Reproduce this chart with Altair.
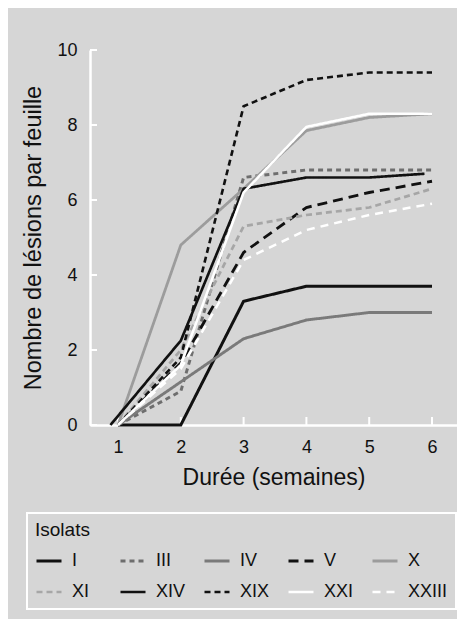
import altair as alt
import pandas as pd

# ---- data ----
weeks = [1, 2, 3, 4, 5, 6]
isolats = ["I", "III", "IV", "V", "X", "XI", "XIV", "XIX", "XXI", "XXIII"]
series = {
    "I":     [0.0, 0.0, 3.3, 3.7, 3.7, 3.7],
    "III":   [0.0, 0.9, 6.6, 6.8, 6.8, 6.8],
    "IV":    [0.0, 1.15, 2.3, 2.8, 3.0, 3.0],
    "V":     [0.0, 1.65, 4.6, 5.8, 6.2, 6.5],
    "X":     [0.0, 4.8, 6.3, 7.85, 8.2, 8.3],
    "XI":    [0.0, 2.0, 5.3, 5.6, 5.8, 6.3],
    "XIV":   [0.0, 2.25, 6.3, 6.6, 6.6, 6.7],
    "XIX":   [0.0, 1.8, 8.5, 9.2, 9.4, 9.4],
    "XXI":   [0.0, 1.6, 6.2, 7.95, 8.3, 8.3],
    "XXIII": [0.0, 1.5, 4.4, 5.2, 5.6, 5.9],
}
series_weeks = {"XIV": [0.88, 2, 3, 4, 5, 5.88]}
x_ticks = [1, 2, 3, 4, 5, 6]
y_ticks = [0, 2, 4, 6, 8, 10]

colors = ["#111111", "#6e6e6e", "#7a7a7a", "#111111", "#9c9c9c",
          "#a6a6a6", "#111111", "#111111", "#ffffff", "#ffffff"]
dashes = [[1, 0], [5, 4], [1, 0], [10, 6], [1, 0],
          [6, 4], [1, 0], [6, 4], [1, 0], [8, 6]]
widths = [3, 2.5, 2.2, 3, 2.2, 2.5, 3, 3, 3, 3]

rows = []
for name in isolats:
    xs = series_weeks.get(name, weeks)
    for w, v in zip(xs, series[name]):
        rows.append({"isolat": name, "semaine": w, "lesions": v})
df = pd.DataFrame(rows)

W, H = 367, 375
xscale = alt.Scale(domain=[0.554, 6.398], nice=False, zero=False)
yscale = alt.Scale(domain=[0, 10], nice=False)

lines = alt.Chart(df).mark_line().encode(
    x=alt.X("semaine:Q", scale=xscale,
            axis=alt.Axis(title="Durée (semaines)", values=x_ticks, format="d")),
    y=alt.Y("lesions:Q", scale=yscale,
            axis=alt.Axis(title="Nombre de lésions par feuille", values=y_ticks)),
    color=alt.Color("isolat:N", sort=isolats,
                    scale=alt.Scale(domain=isolats, range=colors),
                    legend=alt.Legend(title="Isolats")),
    strokeDash=alt.StrokeDash("isolat:N", sort=isolats,
                              scale=alt.Scale(domain=isolats, range=dashes),
                              legend=alt.Legend(title="Isolats")),
    strokeWidth=alt.StrokeWidth("isolat:N", sort=isolats,
                                scale=alt.Scale(domain=isolats, range=widths),
                                legend=None),
    order=alt.Order("semaine:Q"),
)

ytick_df = pd.DataFrame({"v": y_ticks})
xtick_df = pd.DataFrame({"v": x_ticks})
yticks = alt.Chart(ytick_df).mark_rule(color="white", strokeWidth=2).encode(
    y=alt.Y("v:Q", scale=yscale), x=alt.value(0), x2=alt.value(7))
xticks = alt.Chart(xtick_df).mark_rule(color="white", strokeWidth=2).encode(
    x=alt.X("v:Q", scale=xscale), y=alt.value(H), y2=alt.value(H - 8))

chart = alt.layer(yticks, xticks, lines).properties(
    width=W, height=H,
    autosize=alt.AutoSizeParams(type="none"),
    padding={"left": 82, "top": 42, "right": 0, "bottom": 194},
    background="#d6d6d6",
).configure_view(stroke=None).configure_axis(
    domainColor="white", domainWidth=2.5, ticks=False, tickSize=0, grid=False,
    labelFont="Liberation Sans", labelFontSize=18, labelColor="#111111",
    titleFont="Liberation Sans", titleFontWeight="normal",
    titleColor="#111111",
).configure_axisX(labelPadding=13, titlePadding=10, titleFontSize=23).configure_axisY(
    labelPadding=13, titlePadding=11, titleFontSize=23.5
).configure_legend(
    orient="none", legendX=-63, legendY=463, direction="horizontal", columns=5,
    gridAlign="all", columnPadding=2, rowPadding=8,
    strokeColor="white", strokeWidth=2, padding=8, cornerRadius=0,
    titleFont="Liberation Sans", titleFontSize=19, titleFontWeight="normal",
    titleColor="#111111", titlePadding=7,
    labelFont="Liberation Sans", labelFontSize=18, labelColor="#111111",
    labelOffset=9, symbolSize=625, symbolStrokeWidth=3, symbolType="stroke",
)

chart.save("out.html", embed_options={"renderer": "svg", "actions": False})
